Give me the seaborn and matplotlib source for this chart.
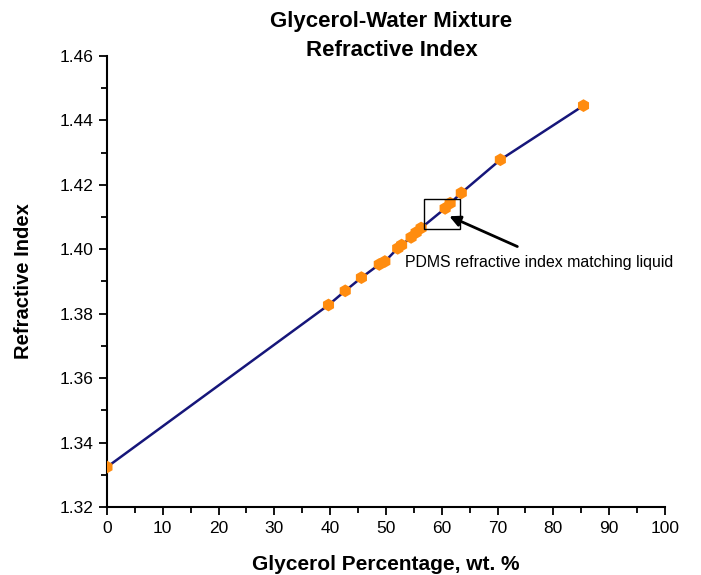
import matplotlib
matplotlib.use("Agg")
import matplotlib.pyplot as plt
from matplotlib.patches import Rectangle
from matplotlib.ticker import MultipleLocator
import pandas as pd
import seaborn as sns

# glycerol content (wt. %) and measured refractive index
glycerol_pct = [0, 39.7, 42.7, 45.6, 48.8, 49.8, 52.1, 52.8, 54.5, 55.4, 56.3,
                60.6, 61.5, 63.5, 70.5, 85.4]
refr_index = [1.3324, 1.3827, 1.3871, 1.3912, 1.3953, 1.3962, 1.4003, 1.4013,
              1.4037, 1.4052, 1.4066, 1.4127, 1.4143, 1.4175, 1.4278, 1.4446]

x_ticks = list(range(0, 101, 10))
y_ticks = [1.32, 1.34, 1.36, 1.38, 1.40, 1.42, 1.44, 1.46]

df = pd.DataFrame({"pct": glycerol_pct, "n": refr_index})

sns.set_style("ticks")
plt.rcParams["font.family"] = ["Liberation Sans", "DejaVu Sans"]
plt.rcParams.update({"text.color": "black", "axes.labelcolor": "black",
                     "xtick.color": "black", "ytick.color": "black"})

fig = plt.figure(figsize=(7.01, 5.75), dpi=100)
ax = fig.add_axes([0.1526, 0.1183, 0.796, 0.7843])

sns.lineplot(data=df, x="pct", y="n", ax=ax, color="#16167a", linewidth=1.8,
             zorder=2)
sns.scatterplot(data=df, x="pct", y="n", ax=ax, color="#ff8c0f", marker="h",
                s=85, edgecolor="none", zorder=3)

ax.set_xlim(0, 100)
ax.set_ylim(1.32, 1.46)
ax.set_xticks(x_ticks)
ax.set_yticks(y_ticks)
ax.set_yticklabels([f"{v:.2f}" for v in y_ticks])
ax.xaxis.set_minor_locator(MultipleLocator(5))
ax.yaxis.set_minor_locator(MultipleLocator(0.01))
ax.tick_params(axis="both", which="major", direction="out", length=6, width=1.3,
               labelsize=12.5, colors="black", pad=4)
ax.tick_params(axis="both", which="minor", direction="out", length=4, width=1.3)
for side in ["left", "bottom"]:
    ax.spines[side].set_linewidth(1.5)
    ax.spines[side].set_color("black")
sns.despine(ax=ax)

ax.set_xlabel("Glycerol Percentage, wt. %", fontsize=15, fontweight="bold",
              labelpad=14)
ax.set_ylabel("Refractive Index", fontsize=14.5, fontweight="bold", labelpad=19)
# fixed y so matplotlib doesn't push the title up above the tick labels
ax.set_title("Glycerol-Water Mixture\nRefractive Index", fontsize=16,
             fontweight="bold", x=0.51, y=1.0, pad=0, linespacing=1.5)

# box around the matching-liquid points plus arrow and note
ax.add_patch(Rectangle((56.8, 1.4063), 6.5, 0.0092, fill=False,
                       edgecolor="black", linewidth=1, zorder=4))
ax.annotate("", xy=(60.9, 1.4106), xytext=(74.0, 1.4005),
            arrowprops=dict(arrowstyle="-|>", color="black", lw=2,
                            mutation_scale=16))
ax.text(53.4, 1.3958, "PDMS refractive index matching liquid", fontsize=11.4,
        va="center", ha="left")

fig.savefig("out.png", dpi=100)
